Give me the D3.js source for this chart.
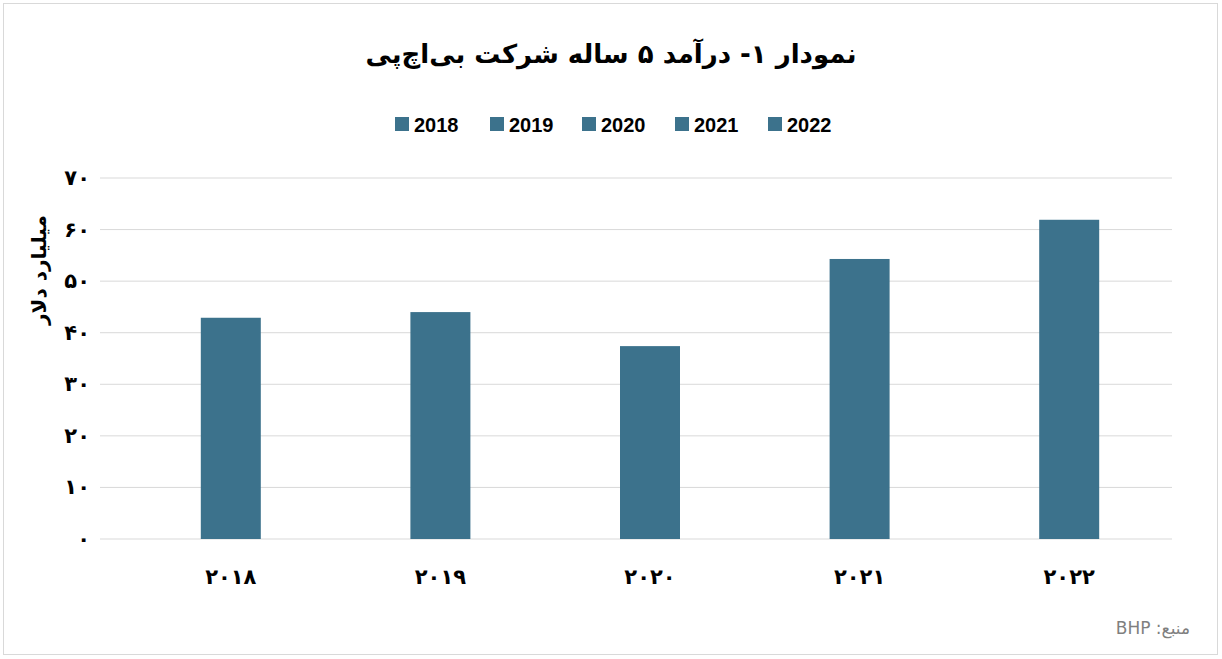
<!DOCTYPE html><html><head><meta charset="utf-8"><script src="https://cdn.jsdelivr.net/npm/d3@7"></script>
<style>body{margin:0;background:#fff}svg{font-family:"DejaVu Sans",sans-serif}</style></head><body><svg id="c" width="1222" height="659"></svg><script>
const categories=["2018","2019","2020","2021","2022"];
const catLabels=["۲۰۱۸","۲۰۱۹","۲۰۲۰","۲۰۲۱","۲۰۲۲"];
const values=[42.9,44.0,37.4,54.3,61.9];
const yTicks=[0,10,20,30,40,50,60,70];
const yTickLabels=["۰","۱۰","۲۰","۳۰","۴۰","۵۰","۶۰","۷۰"];
const color="#3c728c";
const svg=d3.select("#c");
svg.append("rect").attr("x",3.5).attr("y",3.5).attr("width",1214).attr("height",651).attr("fill","#fff").attr("stroke","#d9d9d9");
const L=100,R=1172,T=178,B=539;
const x=d3.scaleBand().domain(categories).range([126,1174]);
const y=d3.scaleLinear().domain([0,70]).range([B,T]);
svg.append("g").selectAll("line").data(yTicks).join("line").attr("x1",L).attr("x2",R).attr("y1",d=>y(d)).attr("y2",d=>y(d)).attr("stroke","#d9d9d9");
svg.append("g").selectAll("text").data(yTicks).join("text").attr("x",90).attr("y",d=>y(d)+7).attr("text-anchor","end").attr("font-size",21).attr("font-weight","bold").text((d,i)=>yTickLabels[i]);
svg.append("g").selectAll("rect").data(values).join("rect").attr("x",(d,i)=>x(categories[i])+x.bandwidth()/2-30).attr("width",60).attr("y",d=>y(d)).attr("height",d=>B-y(d)).attr("fill",color);
svg.append("g").selectAll("text").data(categories).join("text").attr("x",d=>x(d)+x.bandwidth()/2).attr("y",584).attr("text-anchor","middle").attr("font-size",21).attr("font-weight","bold").text((d,i)=>catLabels[i]);
svg.append("text").attr("transform","translate(46,270) rotate(-90)").attr("text-anchor","middle").attr("font-size",20).attr("font-weight","bold").text("میلیارد دلار");
svg.append("text").attr("x",611).attr("y",63).attr("text-anchor","middle").attr("font-size",26).attr("font-weight","bold").text("نمودار ۱- درآمد ۵ ساله شرکت بی‌اچ‌پی");
const lg=svg.append("g");
const lx=[395,490,582,675,768];
categories.forEach((c,i)=>{lg.append("rect").attr("x",lx[i]).attr("y",117).attr("width",14).attr("height",14).attr("fill",color);
lg.append("text").attr("x",lx[i]+19).attr("y",132).attr("font-size",20).attr("font-weight","bold").attr("font-family","Liberation Sans").text(c);});
svg.append("text").attr("x",1190).attr("y",634).attr("text-anchor","start").attr("font-size",17).attr("fill","#7f7f7f").attr("direction","rtl").text("منبع: BHP");
</script></body></html>
